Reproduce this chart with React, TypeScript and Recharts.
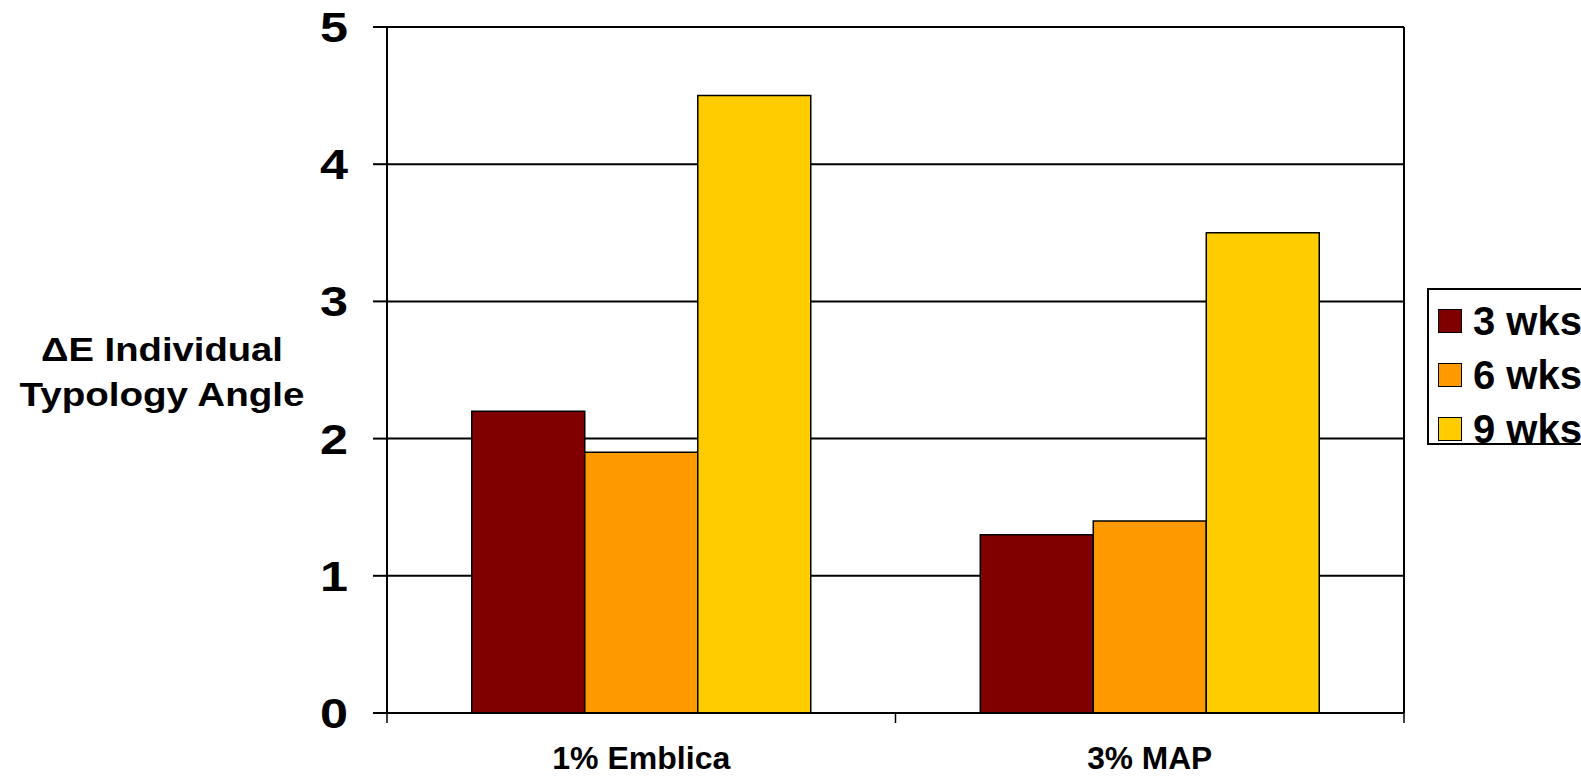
import React from 'react';
import { BarChart, Bar, XAxis, YAxis, CartesianGrid } from 'recharts';

// data
const categories = ['1% Emblica', '3% MAP'];
const wks3 = [2.2, 1.3];
const wks6 = [1.9, 1.4];
const wks9 = [4.5, 3.5];
const seriesNames = ['3 wks', '6 wks', '9 wks'];
const yTicks = [0, 1, 2, 3, 4, 5];

const colors = ['#800000', '#FF9900', '#FFCC00'];
const font = '"Liberation Sans", Arial, sans-serif';
const xLabelWidths: Record<string, number> = { '1% Emblica': 178, '3% MAP': 125 };

const data = categories.map((name, i) => ({ name, w3: wks3[i], w6: wks6[i], w9: wks9[i] }));
const keys = ['w3', 'w6', 'w9'];

function XTick(props: any) {
  const { x, y, payload, width, visibleTicksCount, index } = props;
  const band = width / visibleTicksCount;
  const axisY = y - 12;
  return (
    <g>
      <line x1={x - band / 2} x2={x - band / 2} y1={axisY} y2={axisY + 10} stroke="#000" strokeWidth={1.5} />
      {index === visibleTicksCount - 1 && (
        <line x1={x + band / 2} x2={x + band / 2} y1={axisY} y2={axisY + 10} stroke="#000" strokeWidth={1.5} />
      )}
      <text
        x={x}
        y={axisY + 56}
        textAnchor="middle"
        fontFamily={font}
        fontWeight="bold"
        fontSize={32}
        fill="#000"
        textLength={xLabelWidths[payload.value]}
        lengthAdjust="spacingAndGlyphs"
      >
        {payload.value}
      </text>
    </g>
  );
}

function YTick(props: any) {
  const { x, y, payload } = props;
  return (
    <text
      x={x}
      y={y + 15}
      textAnchor="end"
      fontFamily={font}
      fontWeight="bold"
      fontSize={42}
      fill="#000"
      textLength={28}
      lengthAdjust="spacingAndGlyphs"
    >
      {payload.value}
    </text>
  );
}

function YLabel() {
  return (
    <g fontFamily={font} fontWeight="bold" fontSize={33} fill="#000">
      <text x={162} y={361} textAnchor="middle" textLength={242} lengthAdjust="spacingAndGlyphs">
        ΔE Individual
      </text>
      <text x={162} y={406} textAnchor="middle" textLength={285} lengthAdjust="spacingAndGlyphs">
        Typology Angle
      </text>
    </g>
  );
}

export default function App() {
  return (
    <div
      style={{
        position: 'absolute',
        left: 0,
        top: 0,
        width: 1581,
        height: 776,
        overflow: 'hidden',
        background: '#fff',
      }}
    >
      <BarChart
        width={1581}
        height={776}
        data={data}
        margin={{ top: 27, right: 177, bottom: 0, left: 0 }}
        barCategoryGap="16.67%"
        barGap={0}
      >
        <CartesianGrid
          stroke="#000"
          strokeWidth={2}
          verticalCoordinatesGenerator={({ offset }: any) => [offset.left, offset.left + offset.width]}
        />
        <XAxis
          dataKey="name"
          height={63}
          tickSize={12}
          tickMargin={0}
          tickLine={false}
          axisLine={{ stroke: '#000', strokeWidth: 2 }}
          tick={<XTick />}
          interval={0}
        />
        <YAxis
          width={387}
          domain={[0, 5]}
          ticks={yTicks}
          interval={0}
          tickSize={14}
          tickMargin={25}
          tickLine={{ stroke: '#000', strokeWidth: 2 }}
          axisLine={{ stroke: '#000', strokeWidth: 2 }}
          tick={<YTick />}
          label={{ content: () => <YLabel /> }}
        />
        {keys.map((k, i) => (
          <Bar
            key={k}
            dataKey={k}
            name={seriesNames[i]}
            fill={colors[i]}
            stroke="#000"
            strokeWidth={1.5}
            isAnimationActive={false}
          />
        ))}
      </BarChart>
      <div
        style={{
          position: 'absolute',
          left: 1427,
          top: 288,
          width: 220,
          height: 157,
          border: '2px solid #000',
          background: '#fff',
          fontFamily: font,
          fontWeight: 'bold',
          fontSize: 40,
          paddingTop: 4,
          boxSizing: 'border-box',
        }}
      >
        {seriesNames.map((s, i) => (
          <div key={s} style={{ display: 'flex', alignItems: 'center', height: 54, paddingLeft: 9 }}>
            <span
              style={{
                display: 'inline-block',
                width: 22,
                height: 22,
                background: colors[i],
                border: '1.5px solid #000',
                marginRight: 11,
              }}
            />
            <span style={{ lineHeight: '54px' }}>{s}</span>
          </div>
        ))}
      </div>
    </div>
  );
}
